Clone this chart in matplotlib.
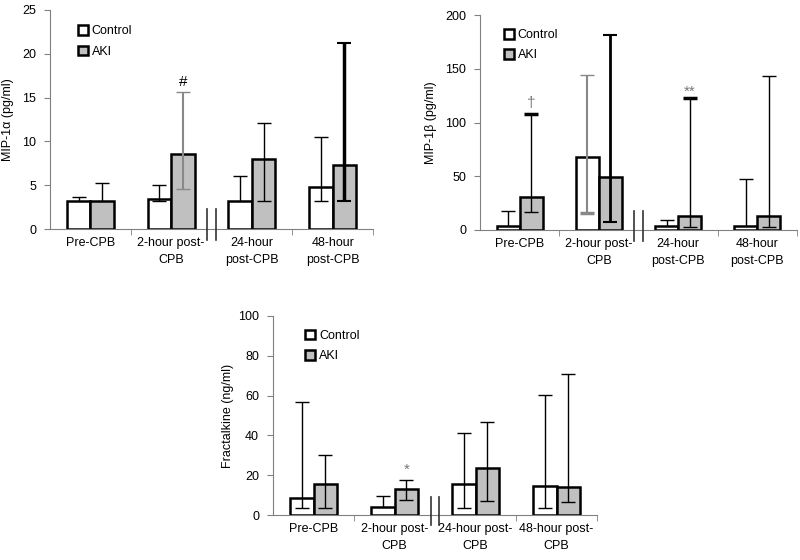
import matplotlib
matplotlib.use("Agg")
import matplotlib.pyplot as plt
from matplotlib.patches import Patch
import numpy as np

plt.rcParams['font.family'] = ['Liberation Sans', 'DejaVu Sans']
plt.rcParams['font.size'] = 9

groups = ['Control', 'AKI']

# MIP-1 alpha
mip1a_labels = ['Pre-CPB', '2-hour post-\nCPB', '24-hour\npost-CPB', '48-hour\npost-CPB']
mip1a_ctrl = [3.2, 3.4, 3.2, 4.8]
mip1a_ctrl_lo = [3.2, 3.2, 3.2, 3.2]
mip1a_ctrl_hi = [3.6, 5.0, 6.1, 10.5]
mip1a_aki = [3.2, 8.6, 8.0, 7.3]
mip1a_aki_lo = [3.2, 4.6, 3.2, 3.2]
mip1a_aki_hi = [5.2, 15.6, 12.1, 21.2]

# MIP-1 beta
mip1b_labels = ['Pre-CPB', '2-hour post-\nCPB', '24-hour\npost-CPB', '48-hour\npost-CPB']
mip1b_ctrl = [3.7, 68, 3.7, 3.7]
mip1b_ctrl_lo = [3.7, 15.5, 3.7, 3.7]
mip1b_ctrl_hi = [17.7, 144, 9, 47.4]
mip1b_aki = [31, 49.6, 13, 13]
mip1b_aki_lo = [16.5, 7, 3, 3]
mip1b_aki_hi = [108, 181, 123, 143]

# Fractalkine
fkn_labels = ['Pre-CPB', '2-hour post-\nCPB', '24-hour post-\nCPB', '48-hour post-\nCPB']
fkn_ctrl = [8.5, 3.9, 15.4, 14.7]
fkn_ctrl_lo = [3.7, 3.9, 3.7, 3.7]
fkn_ctrl_hi = [56.8, 9.7, 41.3, 60.5]
fkn_aki = [15.6, 12.9, 23.5, 14.1]
fkn_aki_lo = [3.7, 7.4, 6.9, 6.7]
fkn_aki_hi = [30.3, 17.7, 46.9, 70.9]

W, H = 800, 560
fig = plt.figure(figsize=(8, 5.6), dpi=100)


def px_axes(left, top, right, bottom):
    return fig.add_axes([left / W, 1 - bottom / H, (right - left) / W, (bottom - top) / H])


thin = dict(lw=1.0, color='black', cap_lo=1.0, cap_hi=1.0)


def panel(ax, labels, ctrl, clo, chi, aki, alo, ahi, ymax, ystep, ylabel,
          styles_c, styles_a, marks, leg_xy, lpad=6):
    x = np.arange(len(labels))
    w = 0.29
    ax.bar(x - w / 2, ctrl, w, color='white', edgecolor='black', linewidth=1.8, zorder=2)
    ax.bar(x + w / 2, aki, w, color='#c0c0c0', edgecolor='black', linewidth=1.8, zorder=2)
    for xs, vals, lo, hi, sts in [(x - w / 2, ctrl, clo, chi, styles_c),
                                  (x + w / 2, aki, alo, ahi, styles_a)]:
        for xi, v, l, h, st in zip(xs, vals, lo, hi, sts):
            s = dict(thin)
            s.update(st)
            _, caps, _ = ax.errorbar(xi, v, yerr=[[v - l], [h - v]], fmt='none',
                                     ecolor=s['color'], elinewidth=s['lw'],
                                     capsize=5, zorder=3)
            caps[0].set_markeredgewidth(s['cap_lo'])
            caps[1].set_markeredgewidth(s['cap_hi'])
            caps[0].set_color(s.get('capc_lo', s['color']))
            caps[1].set_color(s.get('capc_hi', s['color']))
            if l >= v:
                caps[0].set_visible(False)
    for (i, txt, y, col) in marks:
        ax.text(x[i] + w / 2, y, txt, ha='center', va='bottom', color=col, fontsize=11)

    ax.set_xlim(-0.5, len(labels) - 0.5)
    ax.set_ylim(0, ymax)
    ax.set_yticks(np.arange(0, ymax + 1, ystep))
    ax.set_xticks(x)
    ax.set_xticklabels(labels, linespacing=1.5)
    ax.set_xticks([0.5, 2.5, 3.5], minor=True)
    ax.tick_params(axis='x', which='major', length=0, pad=6)
    ax.tick_params(axis='x', which='minor', length=4, color='#808080', direction='out')
    ax.tick_params(axis='y', length=4, color='#808080', pad=6)
    for sp in ['top', 'right']:
        ax.spines[sp].set_visible(False)
    for sp in ['left', 'bottom']:
        ax.spines[sp].set_color('#808080')
    ax.set_ylabel(ylabel, labelpad=lpad)

    # axis break marks
    tr = ax.get_xaxis_transform()
    for dx in (-0.055, 0.055):
        ax.plot([1.5 + dx, 1.5 + dx], [-0.05, 0.09], transform=tr, color='#333333',
                lw=1.2, clip_on=False, zorder=4)

    handles = [Patch(facecolor='white', edgecolor='black', linewidth=1.8),
               Patch(facecolor='#c0c0c0', edgecolor='black', linewidth=1.8)]
    ax.legend(handles, groups, frameon=False, loc='upper left', bbox_to_anchor=leg_xy,
              handlelength=0.8, handleheight=0.8, handletextpad=0.3, labelspacing=0.65,
              borderpad=0, borderaxespad=0, fontsize=9)


ax1 = px_axes(50, 10, 373, 229)
panel(ax1, mip1a_labels, mip1a_ctrl, mip1a_ctrl_lo, mip1a_ctrl_hi,
      mip1a_aki, mip1a_aki_lo, mip1a_aki_hi, 25, 5, 'MIP-1α (pg/ml)',
      [{}, {}, {}, {}],
      [{}, dict(color='#888888', lw=1.5), {}, dict(lw=2.5, cap_hi=1.5, cap_lo=1.5)],
      [(1, '#', 16.0, 'black')], (0.087, 0.93))

ax2 = px_axes(480, 15, 797, 230)
panel(ax2, mip1b_labels, mip1b_ctrl, mip1b_ctrl_lo, mip1b_ctrl_hi,
      mip1b_aki, mip1b_aki_lo, mip1b_aki_hi, 200, 50, 'MIP-1β (pg/ml)',
      [{}, dict(color='#888888', lw=1.5, cap_lo=2.5, capc_lo='black'), {}, {}],
      [dict(cap_hi=2.5), dict(lw=2.0, cap_hi=1.5, cap_lo=1.5), dict(cap_hi=2.5), {}],
      [(0, '†', 112, '#777777'), (2, '**', 122, '#777777')], (0.075, 0.935))

ax3 = px_axes(273, 316, 597, 515)
panel(ax3, fkn_labels, fkn_ctrl, fkn_ctrl_lo, fkn_ctrl_hi,
      fkn_aki, fkn_aki_lo, fkn_aki_hi, 100, 20, 'Fractalkine (ng/ml)',
      [{}, {}, {}, {}], [{}, {}, {}, {}],
      [(1, '*', 19.0, '#777777')], (0.1, 0.93), lpad=3)

fig.savefig('out.png', dpi=100)
